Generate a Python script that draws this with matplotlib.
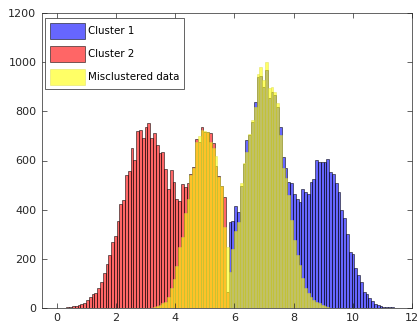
import numpy as np
import matplotlib
matplotlib.use("Agg")
import matplotlib.pyplot as plt

# ---- data ----
bin_start = 0.228
bin_width = 0.0945

series_labels = ["Cluster 1", "Cluster 2", "Misclustered data"]

cluster1_first_bin = 59
cluster1_counts = [351, 355, 416, 391, 495, 585, 683, 704, 758, 840,
                   941, 945, 901, 969, 856, 881, 865, 819, 738, 616,
                   571, 514, 507, 463, 443, 430, 482, 473, 462, 514,
                   523, 602, 593, 593, 593, 605, 554, 544, 507, 473,
                   398, 364, 299, 228, 219, 160, 133, 106, 65, 56,
                   38, 29, 15, 11, 7, 4, 1, 2, 1]

cluster2_first_bin = 1
cluster2_counts = [2, 3, 5, 8, 10, 14, 20, 30, 44, 56,
                   60, 80, 104, 140, 177, 215, 269, 292, 353, 421,
                   439, 541, 557, 650, 602, 720, 724, 693, 735, 752,
                   690, 711, 663, 629, 633, 564, 484, 560, 511, 443,
                   435, 503, 493, 507, 543, 575, 686, 677, 738, 718,
                   715, 711, 670, 578, 538, 498, 452, 65]

miscl_first_bin = 32
miscl_counts = [2, 5, 11, 18, 25, 42, 82, 119, 171, 248,
                290, 385, 444, 540, 568, 677, 701, 724, 720, 715,
                677, 650, 620, 534, 497, 330, 249, 147, 240, 312,
                351, 507, 588, 636, 710, 765, 819, 953, 983, 928,
                1000, 894, 901, 878, 833, 704, 568, 527, 460, 357,
                276, 215, 174, 120, 79, 59, 45, 31, 25, 18,
                11, 8, 4]

x_ticks = [0, 2, 4, 6, 8, 10, 12]
y_ticks = [0, 200, 400, 600, 800, 1000, 1200]


def bin_lefts(first, counts):
    return bin_start + bin_width * (first + np.arange(len(counts)))


fig = plt.figure(figsize=(4.2, 3.23), dpi=100)
ax = fig.add_axes([42 / 420, 1 - 307.7 / 323, 370 / 420, 294.4 / 323])

ax.bar(bin_lefts(cluster1_first_bin, cluster1_counts), cluster1_counts,
       width=bin_width, align="edge", facecolor=(0, 0, 1, 0.6),
       edgecolor=(0, 0, 0, 0.75), linewidth=0.5, label=series_labels[0])
ax.bar(bin_lefts(cluster2_first_bin, cluster2_counts), cluster2_counts,
       width=bin_width, align="edge", facecolor=(1, 0, 0, 0.6),
       edgecolor=(0, 0, 0, 0.75), linewidth=0.5, label=series_labels[1])
ax.bar(bin_lefts(miscl_first_bin, miscl_counts), miscl_counts,
       width=bin_width, align="edge", facecolor=(1, 1, 0, 0.6),
       edgecolor=(0.85, 0.85, 0.3, 0.6), linewidth=0.5, label=series_labels[2])

ax.set_xlim(-0.5, 12)
ax.set_ylim(0, 1200)
ax.set_xticks(x_ticks)
ax.set_yticks(y_ticks)
ax.tick_params(direction="in", top=True, right=True, length=3.5, width=0.5,
               labelsize=8, color="#262626", labelcolor="#262626")
ax.tick_params(axis="x", pad=3.5)
ax.tick_params(axis="y", pad=4)
for s in ax.spines.values():
    s.set_color("#262626")
    s.set_linewidth(0.5)

leg = ax.legend(loc="upper left", bbox_to_anchor=(3 / 370, 1 - 4.7 / 294.4),
                borderaxespad=0, fontsize=7.4, fancybox=False,
                edgecolor="#262626", framealpha=1, handlelength=3.4,
                handleheight=2.0, labelspacing=0.7, handletextpad=0.33,
                borderpad=0.45)
leg.get_frame().set_linewidth(0.5)

fig.savefig("out.png", dpi=100)
